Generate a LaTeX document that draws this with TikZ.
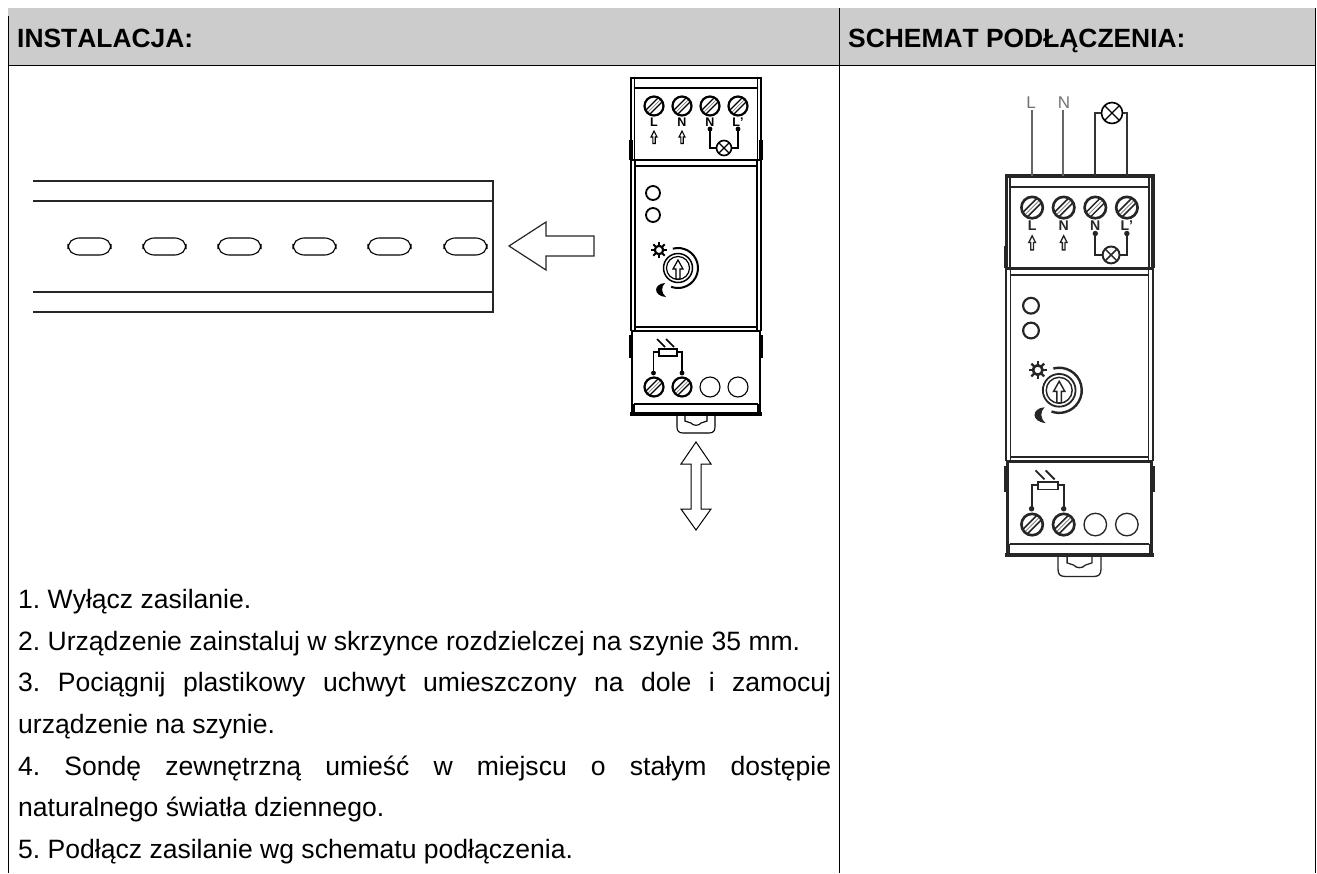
\documentclass[tikz,border=0pt]{standalone}
\usepackage{fontspec}
\setmainfont[Kerning=Off]{Liberation Sans}
\frenchspacing
\tikzset{
  body/.style={anchor=base west,inner sep=0pt,font=\fontsize{26.55}{28}\selectfont},
  head/.style={anchor=base west,inner sep=0pt,font=\bfseries\fontsize{26.4}{30}\selectfont},
  rail/.style={line width=1.3pt,color=black!85},
  term/.style={inner sep=0pt,font=\bfseries\fontsize{12.5}{13}\selectfont,transform shape},
}
\definecolor{hdr}{HTML}{CCCCCC}
\def\lwf{1}
\newcommand{\myscrew}[2]{%
  \begin{scope}
    \clip (#1,#2) circle (10);
    \draw[line width=\lwf*1.3pt] (#1-11,#2+7) -- (#1+7,#2-11);
    \draw[line width=\lwf*1.3pt] (#1-7,#2+11) -- (#1+11,#2-7);
    \draw[line width=\lwf*0.7pt,color=black!50] (#1-9,#2+9) -- (#1+9,#2-9);
  \end{scope}
  \draw[line width=\lwf*2.2pt] (#1,#2) circle (9.5);
}
\newcommand{\myup}[2]{%
  \draw[line width=\lwf*1.1pt] (#1-1.2,#2+6.5) -- (#1-1.2,#2) -- (#1-3,#2) -- (#1,#2-6) -- (#1+3,#2) -- (#1+1.2,#2) -- (#1+1.2,#2+6.5) -- cycle;
}
\newcommand{\mylamp}[3]{%
  \draw[line width=\lwf*1.6pt,fill=white] (#1,#2) circle (#3);
  \draw[line width=\lwf*1.3pt] (#1-.7*#3,#2-.7*#3) -- (#1+.7*#3,#2+.7*#3) (#1-.7*#3,#2+.7*#3) -- (#1+.7*#3,#2-.7*#3);
}
\newcommand{\mydevice}{%
  % outer frame
  \draw[line width=\lwf*2.8pt] (631,160) -- (631,78) -- (761,78) -- (761,160);
  \draw[line width=\lwf*3.4pt] (631,140) -- (631,160) (761,140) -- (761,160);
  \draw[line width=\lwf*1.3pt] (634.5,78) -- (634.5,160) (757.5,160) -- (757.5,78);
  \draw[line width=\lwf*1.3pt] (634,88) -- (758,88);
  \draw[line width=\lwf*2pt] (632,160) -- (760,160);
  \draw[line width=\lwf*1.3pt] (634,166) -- (758,166);
  \draw[line width=\lwf*1.3pt] (631,160) -- (631,331) (635,160) -- (635,331) (757,160) -- (757,331) (761,160) -- (761,331);
  \draw[line width=\lwf*1.3pt] (635,327) -- (757,327);
  \draw[line width=\lwf*2pt] (631,331) -- (761,331);
  \draw[line width=\lwf*2pt] (632,331) -- (632,414) (760,331) -- (760,414);
  \draw[line width=\lwf*3.2pt] (631,335) -- (631,358) (761,335) -- (761,358);
  \draw[line width=\lwf*1.3pt] (634,404) -- (758,404) (634,404) -- (634,414) (758,404) -- (758,414);
  \draw[line width=\lwf*3.2pt] (630,414) -- (762,414);
  % top terminals
  \foreach \tx in {654,682,710,738} {\myscrew{\tx}{106}}
  \node[term] (lL) at (654,122) {L};
  \node[term] (lN) at (682,122) {N};
  \node[term] (lM) at (710,122) {N};
  \node[term] (lP) at (738,122) {L'};
  \myup{654}{137}
  \myup{682}{137}
  \fill (710,129) circle (2.4) (738,129) circle (2.4);
  \draw[line width=\lwf*1.5pt] (710,129) -- (710,148) -- (738,148) -- (738,129);
  \mylamp{724}{148}{7.5}
  % leds
  \draw[line width=\lwf*1.8pt] (653,193) circle (7) (653,215) circle (7);
  % sun
  \draw[line width=\lwf*2.2pt] (659,250) circle (4.2);
  \foreach \an in {0,45,...,315} {\draw[line width=\lwf*1.8pt] (659,250) ++(\an:4.5) -- ++(\an:3.5);}
  % moon
  \fill (665,283) .. controls (653,284) and (653,296) .. (666,297) .. controls (661,293) and (661,287) .. (665,283) -- cycle;
  % knob
  \draw[line width=\lwf*2pt] (678,268) ++(-105:20) arc[start angle=-105,end angle=110,radius=20];
  \draw[line width=\lwf*1.5pt] (678,268) circle (14.5);
  \draw[line width=\lwf*1.2pt] (678,268) circle (11.5);
  \draw[line width=\lwf*1.2pt,fill=white] (676,279) -- (676,269) -- (673,269) -- (678,260) -- (683,269) -- (680,269) -- (680,279) -- cycle;
  % sensor
  \draw[line width=\lwf*1.5pt] (657,339) -- (665,347) (666,339) -- (674,347);
  \draw[line width=\lwf*1.5pt] (659,349) rectangle (677,356);
  \draw[line width=\lwf*1.6pt] (659,352) -- (653.5,352) -- (653.5,373) (677,352) -- (682,352) -- (682,373);
  \fill (653.5,373) circle (2.4) (682,373) circle (2.4);
  \myscrew{654}{387}
  \myscrew{682}{387}
  \draw[line width=\lwf*1.1pt] (710,387) circle (10) (738,387) circle (10);
  % clip
  \draw[line width=\lwf*1.1pt] (677,415) -- (677,427) .. controls (677,431) and (679,433) .. (683,433) -- (709,433) .. controls (713,433) and (715,431) .. (715,427) -- (715,415);
  \draw[line width=\lwf*1.1pt] (685,415) -- (685,421) -- (691,423) .. controls (693,426) and (699,426) .. (701,423) -- (707,421) -- (707,415);
}
\begin{document}
\begin{tikzpicture}[x=1pt,y=-1pt]
\useasboundingbox (0,0) rectangle (1317,873);
\fill[white] (0,0) rectangle (1317,873);
\fill[hdr] (8,8) rectangle (1315,65);
\draw[line width=1pt] (8,65) -- (1315,65);
\draw[line width=1pt] (8,16) -- (8,873);
\draw[line width=1pt] (839,8) -- (839,873);
\draw[line width=1pt] (1315,8) -- (1315,873);
\node[head] (h1) at (17,47) {INSTALACJA:};
\node[head] (h2) at (848,47) {SCHEMAT PODŁĄCZENIA:};
% rail
\draw[rail] (33,181) -- (493,181) -- (493,312) -- (33,312);
\draw[rail] (33,201) -- (493,201) (33,292) -- (493,292);
\foreach \sx in {68,143,218,293,368,444} {
  \draw[line width=1.1pt,rounded corners=5pt] (\sx+20,238) -- (\sx+37,238) -- (\sx+43,244) -- (\sx+43,249) -- (\sx+37,255) -- (\sx+6,255) -- (\sx,249) -- (\sx,244) -- (\sx+6,238) -- cycle;
}
% insert arrow
\draw[line width=1.2pt,color=black!85,line join=miter] (509,246) -- (546,222) -- (546,236) -- (594,236) -- (594,256) -- (546,256) -- (546,270) -- cycle;
% double arrow
\draw[line width=1pt] (696,442) -- (711,464) -- (701,464) -- (701,509) -- (711,509) -- (696,530) -- (681,509) -- (691,509) -- (691,464) -- (681,464) -- cycle;
% devices
\mydevice
\begin{scope}[shift={(294.4,88)},scale=1.128,color=black!85]
\def\lwf{1.2}
\mydevice
\end{scope}
% wiring of the second device
\draw[line width=2pt,color=black!60] (1032,110) -- (1032,176) (1063,110) -- (1063,176);
\draw[line width=1.5pt,color=black!80] (1095,176) -- (1095,113) -- (1127,113) -- (1127,176);
\mylamp{1112}{113}{10.5}
\node[inner sep=0pt,font=\fontsize{17}{18}\selectfont,color=black!55] (tL) at (1031,103) {L};
\node[inner sep=0pt,font=\fontsize{17}{18}\selectfont,color=black!55] (tN) at (1064,103) {N};
% text
\node[body] (t1) at (18,608.3) {1. Wyłącz zasilanie.};
\node[body] (t2) at (18,650) {2. Urządzenie zainstaluj w skrzynce rozdzielczej na szynie 35 mm.};
\node[body] (t3) at (18,691.7) {\makebox[813pt][s]{3. Pociągnij plastikowy uchwyt umieszczony na dole i zamocuj}};
\node[body] (t4) at (18,733.3) {urządzenie na szynie.};
\node[body] (t5) at (18,775) {\makebox[813pt][s]{4. Sondę zewnętrzną umieść w miejscu o stałym dostępie}};
\node[body] (t6) at (18,816.7) {naturalnego światła dziennego.};
\node[body] (t7) at (18,858.3) {5. Podłącz zasilanie wg schematu podłączenia.};
\end{tikzpicture}
\end{document}
